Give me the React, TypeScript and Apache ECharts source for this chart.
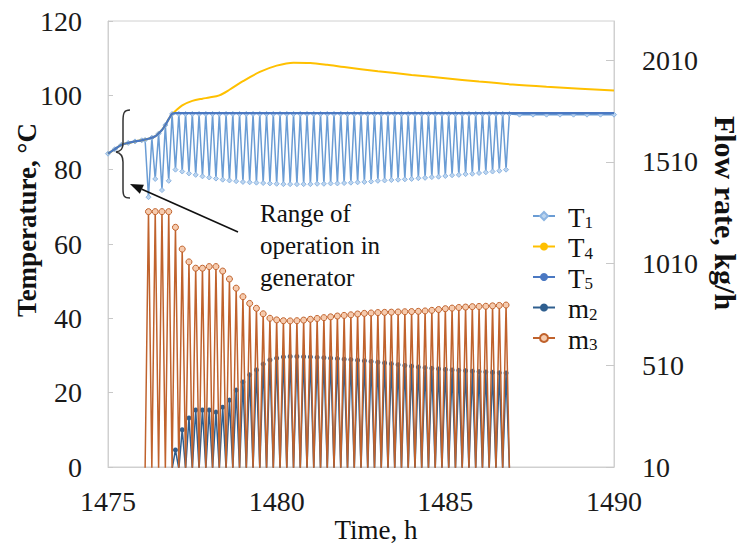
import React, { useEffect, useRef } from "react";
import * as echarts from "echarts";

// ---------------- data ----------------
const xTickValues = [1475, 1480, 1485, 1490];
const flowTickValues = [10, 510, 1010, 1510, 2010];

// common warm-up curve shared by the temperatures (time h, °C)
const warmTimes = [1475.0, 1475.2, 1475.4, 1475.6, 1475.8, 1476.0, 1476.2, 1476.4, 1476.6, 1476.7, 1476.8, 1476.9, 1477.0];
const warmTemps = [84.3, 85.5, 86.7, 87.2, 87.6, 87.9, 88.3, 89.0, 90.7, 92.0, 93.6, 95.0, 95.3];

const cycleFirst = 1476.2; // first T1 valley / first m3 peak
const cycleStep = 0.2;
const sampleStep = 0.1;

// T1 upper points (1476.1, 1476.3, ... 1486.9)
const t1Tops = [
  88.0, 88.6, 89.7, 92.0, 95.0, 95.0, 95.0, 95.0, 95.0, 95.0,
  95.0, 95.0, 95.0, 95.0, 95.0, 95.0, 95.0, 95.0, 95.0, 95.0,
  95.0, 95.0, 95.0, 95.0, 95.0, 95.0, 95.0, 95.0, 95.0, 95.0,
  95.0, 95.0, 95.0, 95.0, 95.0, 95.0, 95.0, 95.0, 95.0, 95.0,
  95.0, 95.0, 95.0, 95.0, 95.0, 95.0, 95.0, 95.0, 95.0, 95.0,
  95.0, 95.0, 95.0, 95.0, 95.0,
];
// T1 lower points (1476.2, 1476.4, ... 1486.8)
const t1Valleys = [
  72.6, 77.5, 74.5, 77.0, 80.0, 79.5, 79.0, 78.6, 78.2, 77.9,
  77.6, 77.3, 77.1, 76.9, 76.7, 76.6, 76.5, 76.4, 76.3, 76.2,
  76.1, 76.1, 76.1, 76.1, 76.1, 76.2, 76.2, 76.3, 76.3, 76.4,
  76.5, 76.6, 76.7, 76.8, 77.0, 77.1, 77.2, 77.3, 77.4, 77.5,
  77.7, 77.8, 78.0, 78.1, 78.3, 78.5, 78.6, 78.8, 78.9, 79.1,
  79.3, 79.5, 79.7, 80.0,
];
const t1TailTimes = [1487.2, 1487.6, 1488.0, 1488.4, 1488.8, 1489.2, 1489.6, 1490.0];
const t1TailTemps = [94.8, 94.8, 94.8, 94.8, 94.8, 94.8, 94.8, 94.8];

const t4Times = [1477.0, 1477.2, 1477.5, 1477.8, 1478.0, 1478.3, 1478.6, 1479.0, 1479.5, 1480.0, 1480.5, 1481.0, 1481.5, 1482.0, 1483.0, 1484.0, 1485.0, 1486.0, 1487.0, 1488.0, 1489.0, 1490.0];
const t4Temps = [95.8, 97.3, 98.5, 99.1, 99.4, 100.0, 101.5, 103.8, 106.3, 108.0, 108.8, 108.7, 108.2, 107.6, 106.5, 105.5, 104.6, 103.7, 102.9, 102.3, 101.8, 101.3];

const t5Times = [1477.0, 1490.0];
const t5Temps = [95.2, 95.2];

// flow rates, kg/h, at the cycle peaks
const m2FirstCycle = 4;
const m2Peaks = [
  94, 193, 251, 290, 290, 290, 280, 304, 339, 388,
  428, 463, 487, 516, 536, 545, 551, 553, 553, 552,
  551, 549, 547, 545, 543, 540, 538, 535, 532, 529,
  525, 521, 517, 513, 509, 505, 501, 498, 495, 492,
  489, 487, 485, 483, 481, 479, 477, 475, 473, 472,
];
const m3Peaks = [
  1265, 1265, 1265, 1265, 1188, 1081, 1018, 987, 987, 995,
  995, 973, 934, 889, 847, 814, 790, 763, 741, 733,
  729, 728, 729, 732, 736, 740, 744, 748, 752, 755,
  758, 762, 765, 767, 769, 770, 771, 772, 773, 774,
  775, 777, 780, 784, 788, 791, 794, 796, 798, 799,
  800, 802, 804, 806,
];

// ---------------- helpers ----------------
const rt = (v: number) => Math.round(v * 1000) / 1000;

function buildT1() {
  const d: number[][] = [];
  warmTimes.forEach((t, i) => {
    if (t < cycleFirst - sampleStep - 0.001) d.push([t, warmTemps[i]]);
  });
  for (let k = 0; k < t1Tops.length; k++) {
    d.push([rt(cycleFirst - sampleStep + k * cycleStep), t1Tops[k]]);
    if (k < t1Valleys.length) d.push([rt(cycleFirst + k * cycleStep), t1Valleys[k]]);
  }
  t1TailTimes.forEach((t, i) => d.push([t, t1TailTemps[i]]));
  return d;
}
function buildWarmThen(times: number[], temps: number[]) {
  const d: number[][] = [];
  warmTimes.forEach((t, i) => {
    if (t < times[0] - 0.001) d.push([t, warmTemps[i]]);
  });
  times.forEach((t, i) => d.push([t, temps[i]]));
  return d;
}
function buildFlow(peaks: number[], firstCycle: number) {
  const d: number[][] = [];
  d.push([rt(cycleFirst + firstCycle * cycleStep - sampleStep), 0]);
  peaks.forEach((v, i) => {
    const t = cycleFirst + (firstCycle + i) * cycleStep;
    d.push([rt(t), v]);
    d.push([rt(t + sampleStep), 0]);
  });
  return d;
}

const bracePath =
  "M 130 110 C 124 110 123 113 123 121 L 123 143 C 123 149 121 151 116 152 C 121 153 123 156 123 162 L 123 189 C 123 196 124 198 130 198";
echarts.graphic.registerShape("brace", echarts.graphic.extendPath(bracePath, {}));

const SERIF = "Liberation Serif";
const plain = (v: number) => String(v);

export default function App() {
  const ref = useRef<HTMLDivElement>(null);
  useEffect(() => {
    document.body.style.margin = "0";
    if (!ref.current) return;
    const chart = echarts.init(ref.current, null, { renderer: "svg" });

    // arrow geometry
    const ax0 = 238, ay0 = 232, ax1 = 130, ay1 = 184;
    const dx = ax1 - ax0, dy = ay1 - ay0;
    const len = Math.sqrt(dx * dx + dy * dy);
    const ux = dx / len, uy = dy / len;
    const hl = 13, hw = 5;
    const bx = ax1 - ux * hl, by = ay1 - uy * hl;
    const px = -uy * hw, py = ux * hw;

    const axisGray = "#d0d0d0";
    const labelStyle = { fontSize: 28, fontFamily: SERIF, color: "#1a1a1a", formatter: plain };

    chart.setOption({
      animation: false,
      backgroundColor: "#ffffff",
      textStyle: { fontFamily: SERIF },
      grid: {
        left: 108,
        right: 126,
        top: 21,
        bottom: 83,
        show: true,
        borderColor: axisGray,
        borderWidth: 1,
      },
      legend: {
        orient: "vertical",
        left: 527,
        top: 199,
        itemWidth: 22,
        itemHeight: 10,
        itemGap: 3.5,
        data: ["T1", "T4", "T5", "m2", "m3"],
        formatter: (name: string) => `{b|${name[0]}}{s|${name.slice(1)}}`,
        textStyle: {
          fontFamily: SERIF,
          rich: {
            b: { fontSize: 27, fontFamily: SERIF, color: "#111", lineHeight: 30, padding: [0, 0, 0, 8], verticalAlign: "bottom" },
            s: { fontSize: 17, fontFamily: SERIF, color: "#111", lineHeight: 15, verticalAlign: "bottom" },
          },
        },
      },
      xAxis: {
        type: "value",
        min: 1475,
        max: 1490,
        interval: 5,
        axisLine: { show: true, lineStyle: { color: axisGray } },
        axisTick: { show: false },
        splitLine: { show: false },
        axisLabel: { ...labelStyle, margin: 20, customValues: xTickValues },
      },
      yAxis: [
        {
          type: "value",
          min: 0,
          max: 120,
          interval: 20,
          axisLine: { show: true, lineStyle: { color: axisGray } },
          axisTick: { show: true, inside: true, length: 5, lineStyle: { color: "#c8c8c8" } },
          splitLine: { show: false },
          axisLabel: { ...labelStyle, margin: 26 },
        },
        {
          type: "value",
          position: "right",
          min: 10,
          max: 2202,
          axisLine: { show: true, lineStyle: { color: axisGray } },
          axisTick: { show: true, inside: true, length: 8, lineStyle: { color: "#c8c8c8" }, customValues: flowTickValues },
          splitLine: { show: false },
          axisLabel: { ...labelStyle, margin: 28, customValues: flowTickValues },
        },
      ],
      series: [
        {
          name: "T1",
          type: "line",
          yAxisIndex: 0,
          data: buildT1(),
          lineStyle: { color: "#6a9cd4", width: 1.5 },
          itemStyle: { color: "#bcd5ef", borderColor: "#8db5e2", borderWidth: 1 },
          symbol: "diamond",
          symbolSize: 5,
          showSymbol: true,
          z: 2,
        },
        {
          name: "T4",
          type: "line",
          yAxisIndex: 0,
          data: buildWarmThen(t4Times, t4Temps),
          smooth: 0.3,
          lineStyle: { color: "#ffc000", width: 2 },
          itemStyle: { color: "#ffc000" },
          symbol: "circle",
          symbolSize: 2,
          showSymbol: false,
          z: 3,
        },
        {
          name: "T5",
          type: "line",
          yAxisIndex: 0,
          data: buildWarmThen(t5Times, t5Temps),
          smooth: 0.3,
          lineStyle: { color: "#4a78c2", width: 2.2 },
          itemStyle: { color: "#4a78c2" },
          symbol: "none",
          z: 4,
        },
        {
          name: "m2",
          type: "line",
          yAxisIndex: 1,
          data: buildFlow(m2Peaks, m2FirstCycle),
          lineStyle: { color: "#2f5f8f", width: 1.5 },
          itemStyle: { color: "#2f5f8f" },
          symbol: "circle",
          symbolSize: (v: number[]) => (v[1] > 0 ? 5 : 0),
          z: 5,
        },
        {
          name: "m3",
          type: "line",
          yAxisIndex: 1,
          data: buildFlow(m3Peaks, 0),
          lineStyle: { color: "#c0622c", width: 1.5 },
          itemStyle: { color: "#f6cbae", borderColor: "#c0622c", borderWidth: 1 },
          symbol: "circle",
          symbolSize: (v: number[]) => (v[1] > 0 ? 6 : 0),
          z: 6,
        },
      ],
      graphic: [
        {
          type: "brace",
          x: 0,
          y: 0,
          style: { fill: "none", stroke: "#333333", lineWidth: 1.5 },
          z: 100,
        },
        {
          type: "line",
          shape: { x1: ax0, y1: ay0, x2: bx, y2: by },
          style: { stroke: "#111111", lineWidth: 1.6 },
          z: 100,
        },
        {
          type: "polygon",
          shape: { points: [[ax1, ay1], [bx + px, by + py], [bx - px, by - py]] },
          style: { fill: "#111111" },
          z: 100,
        },
        {
          type: "text",
          x: 260,
          y: 197,
          style: {
            text: "Range of\noperation in\ngenerator",
            fontSize: 25,
            fontFamily: SERIF,
            lineHeight: 32,
            fill: "#111111",
            align: "left",
            verticalAlign: "top",
          },
          z: 100,
        },
        {
          type: "text",
          x: 27,
          y: 220,
          rotation: Math.PI / 2,
          style: {
            text: "Temperature, °C",
            fontSize: 27,
            fontWeight: "bold",
            fontFamily: SERIF,
            fill: "#111111",
            align: "center",
            verticalAlign: "middle",
          },
          z: 100,
        },
        {
          type: "text",
          x: 725,
          y: 213,
          rotation: -Math.PI / 2,
          style: {
            text: "Flow rate, kg/h",
            fontSize: 30,
            fontWeight: "bold",
            fontFamily: SERIF,
            fill: "#111111",
            align: "center",
            verticalAlign: "middle",
          },
          z: 100,
        },
        {
          type: "text",
          x: 376,
          y: 530,
          style: {
            text: "Time, h",
            fontSize: 27,
            fontFamily: SERIF,
            fill: "#111111",
            align: "center",
            verticalAlign: "middle",
          },
          z: 100,
        },
      ],
    });
    return () => chart.dispose();
  }, []);
  return <div ref={ref} style={{ width: 740, height: 550 }} />;
}
